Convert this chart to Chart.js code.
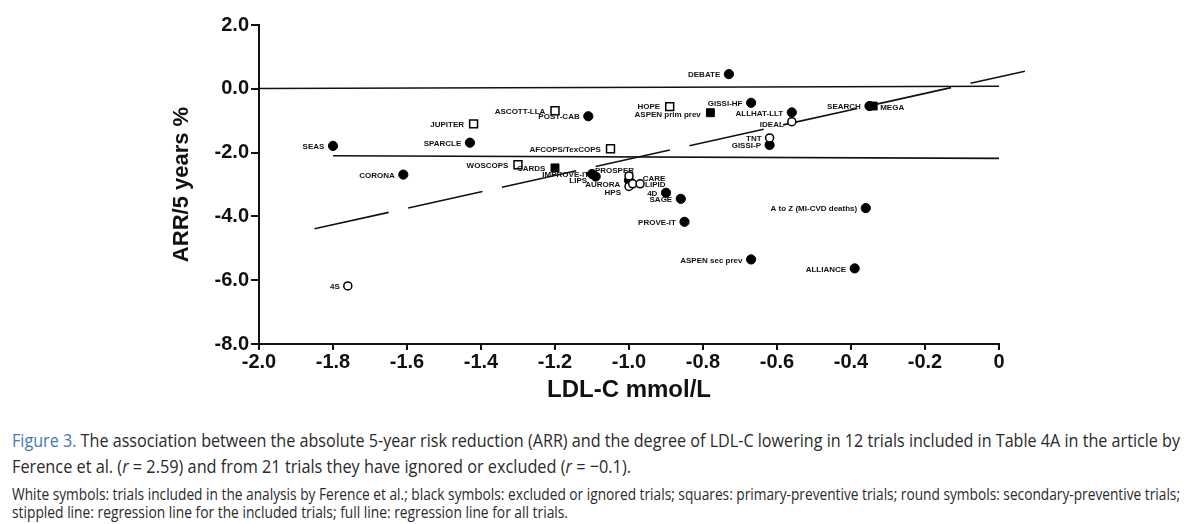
<!DOCTYPE html>
<html>
<head>
<meta charset="utf-8">
<script src="https://cdn.jsdelivr.net/npm/chart.js@4.4.3/dist/chart.umd.min.js"></script>
<style>
  body { margin: 0; width: 1200px; height: 524px; background: #fff; overflow: hidden; position: relative; }
  #wrap { position: absolute; left: 0; top: 0; width: 1200px; height: 410px; }
  .cap { position: absolute; left: 12px; display: inline-block; white-space: nowrap; color: #2a2a2a;
         transform-origin: left top; font-family: "Open Sans", "Noto Sans", sans-serif; }
  .big { font-size: 19px; line-height: 24px; }
  .small { font-size: 15.5px; line-height: 18px; }
  .fig { color: #4577b2; }
</style>
</head>
<body>
<div id="wrap"><canvas id="c"></canvas></div>
<div id="cap1" class="cap big" style="top:428px"><span class="fig">Figure 3.</span> The association between the absolute 5-year risk reduction (ARR) and the degree of LDL-C lowering in 12 trials included in Table 4A in the article by</div>
<div id="cap2" class="cap big" style="top:454px">Ference et al. (<i>r</i> = 2.59) and from 21 trials they have ignored or excluded (<i>r</i> = −0.1).</div>
<div id="cap3" class="cap small" style="top:485px">White symbols: trials included in the analysis by Ference et al.; black symbols: excluded or ignored trials; squares: primary-preventive trials; round symbols: secondary-preventive trials;</div>
<div id="cap4" class="cap small" style="top:503px">stippled line: regression line for the included trials; full line: regression line for all trials.</div>
<script>
// ── data ────────────────────────────────────────────────────────────────────
const trials = ['DEBATE', 'SEAS', 'CORONA', '4S', 'JUPITER', 'SPARCLE', 'ASCOTT-LLA', 'POST-CAB',
  'AFCOPS/TexCOPS', 'WOSCOPS', 'CARDS', 'IMPROVE-IT', 'LIPS', 'PROSPER', 'AURORA', 'HPS', 'CARE',
  'LIPID', '4D', 'SAGE', 'PROVE-IT', 'ASPEN sec prev', 'A to Z (MI-CVD deaths)', 'ALLIANCE', 'HOPE',
  'ASPEN prim prev', 'GISSI-HF', 'ALLHAT-LLT', 'IDEAL', 'TNT', 'GISSI-P', 'SEARCH', 'MEGA'];

const ldlChange = [-0.73, -1.80, -1.61, -1.76, -1.42, -1.43, -1.20, -1.11,
  -1.05, -1.30, -1.20, -1.10, -1.09, -1.00, -1.00, -1.00, -0.99,
  -0.97, -0.90, -0.86, -0.85, -0.67, -0.36, -0.39, -0.89,
  -0.78, -0.67, -0.56, -0.56, -0.62, -0.62, -0.35, -0.34];

const arrChange = [0.46, -1.79, -2.69, -6.18, -1.10, -1.69, -0.69, -0.86,
  -1.88, -2.38, -2.48, -2.67, -2.75, -2.73, -2.87, -3.06, -2.98,
  -2.98, -3.26, -3.45, -4.17, -5.35, -3.74, -5.63, -0.56,
  -0.75, -0.44, -0.74, -1.03, -1.54, -1.76, -0.54, -0.54];

// white symbols = included by Ference et al.
const included = [false, false, false, true, true, false, true, false,
  true, true, false, false, false, true, false, true, true,
  true, false, false, false, false, false, false, true,
  false, false, false, true, true, false, false, false];

// squares = primary prevention
const primary = [false, false, false, false, true, false, true, false,
  true, true, true, false, false, false, false, false, false,
  false, false, false, false, false, false, false, true,
  true, false, false, false, false, false, false, true];

// regression lines (end points)
const fullUpperX = [-2.0, 0.0];
const fullUpperY = [0.01, 0.08];
const fullLowerX = [-1.80, 0.0];
const fullLowerY = [-2.10, -2.18];
const stippledX = [-1.85, 0.07];
const stippledY = [-4.39, 0.55];

const xTicks = [-2.0, -1.8, -1.6, -1.4, -1.2, -1.0, -0.8, -0.6, -0.4, -0.2, 0];
const yTicks = [2.0, 0.0, -2.0, -4.0, -6.0, -8.0];

// ── label placement tweaks (layout only) ────────────────────────────────────
const labelNudge = {
  'PROSPER': { align: 'right', dx: 5, dy: -6 },
  'LIPS': { dy: 3 },
  'AURORA': { dy: 3 },
  'HPS': { dy: 5 },
  'CARE': { align: 'left', dx: 10, dy: -6 },
  'LIPID': { align: 'left', dx: 5, dy: 0 },
  'MEGA': { align: 'left', dx: 7, dy: 1 },
  'IDEAL': { dy: 2 },
  'IMPROVE-IT': { dx: -3 },
  'HOPE': { dy: -1 },
  'ASPEN prim prev': { dy: 1 },
};

const BOLD = '"Liberation Sans", Arial, Helvetica, sans-serif';

const pairs = (xs, ys) => xs.map((x, i) => ({ x, y: ys[i] }));

function pointSet(inc, prim) {
  const idx = trials.map((_, i) => i).filter(i => included[i] === inc && primary[i] === prim);
  return {
    type: 'scatter',
    names: idx.map(i => trials[i]),
    data: idx.map(i => ({ x: ldlChange[i], y: arrChange[i] })),
    pointStyle: prim ? 'rect' : 'circle',
    pointRadius: prim ? 5.6 : (inc ? 4 : 4.6),
    pointHoverRadius: prim ? 5.6 : 4.6,
    backgroundColor: inc ? '#fff' : '#000',
    borderColor: '#000',
    borderWidth: inc ? 1.5 : 1,
    order: 1,
  };
}

function lineSet(pts, dash) {
  return {
    type: 'line',
    data: pts,
    borderColor: '#111',
    borderWidth: 1.6,
    borderDash: dash,
    pointRadius: 0,
    fill: false,
    clip: false,
    order: 2,
  };
}

const trialLabels = {
  id: 'trialLabels',
  afterDatasetsDraw(chart) {
    const ctx = chart.ctx;
    ctx.save();
    ctx.font = 'bold 8px ' + BOLD;
    ctx.fillStyle = '#111';
    ctx.textBaseline = 'middle';
    chart.data.datasets.forEach((ds, di) => {
      if (!ds.names) return;
      const meta = chart.getDatasetMeta(di);
      meta.data.forEach((pt, i) => {
        const name = ds.names[i];
        const n = labelNudge[name] || {};
        ctx.textAlign = n.align || 'right';
        const dx = n.dx != null ? n.dx : -(ds.pointRadius + 4);
        ctx.fillText(name, pt.x + dx, pt.y + (n.dy || 0) + 1);
      });
    });
    ctx.restore();
  }
};

const fmt = v => (Math.abs(v) < 1e-9 ? 0 : v).toFixed(1);

new Chart(document.getElementById('c'), {
  data: {
    datasets: [
      lineSet(pairs(fullUpperX, fullUpperY), []),
      lineSet(pairs(fullLowerX, fullLowerY), []),
      lineSet(pairs(stippledX, stippledY), [76, 20]),
      pointSet(true, false),
      pointSet(false, false),
      pointSet(true, true),
      pointSet(false, true),
    ],
  },
  options: {
    responsive: true,
    maintainAspectRatio: false,
    animation: false,
    events: [],
    layout: { padding: { left: 165, right: 201, top: 25, bottom: 0 } },
    plugins: { legend: { display: false }, tooltip: { enabled: false } },
    scales: {
      x: {
        type: 'linear',
        min: -2, max: 0,
        afterFit: s => { s.height = 66; },
        afterBuildTicks: s => { s.ticks = xTicks.map(v => ({ value: v })); },
        border: { display: true, color: '#111', width: 2 },
        grid: { drawOnChartArea: false, drawTicks: true, tickLength: 6, color: '#111', lineWidth: 2 },
        ticks: {
          color: '#111', padding: 0, maxRotation: 0, autoSkip: false,
          font: { family: BOLD, size: 20, weight: 'bold' },
          callback: v => (Math.abs(v) < 1e-9 ? '0' : v.toFixed(1)),
        },
        title: {
          display: true, text: 'LDL-C mmol/L', color: '#111',
          font: { family: BOLD, size: 24, weight: 'bold' },
          padding: { top: 4, bottom: 5 },
        },
      },
      y: {
        type: 'linear',
        min: -8, max: 2,
        afterFit: s => { s.width = 94; },
        afterBuildTicks: s => { s.ticks = yTicks.map(v => ({ value: v })); },
        border: { display: true, color: '#111', width: 2 },
        grid: { drawOnChartArea: false, drawTicks: true, tickLength: 8, color: '#111', lineWidth: 2 },
        ticks: {
          color: '#111', padding: 2, autoSkip: false,
          font: { family: BOLD, size: 20, weight: 'bold' },
          callback: v => fmt(v),
        },
        title: {
          display: true, text: 'ARR/5 years %', color: '#111',
          font: { family: BOLD, size: 22, weight: 'bold' },
          padding: { top: 4, bottom: 4 },
        },
      },
    },
  },
  plugins: [trialLabels],
});

// squeeze each caption line to the condensed width of the printed figure
function fitCaption(id, target) {
  const el = document.getElementById(id);
  const s = target / el.getBoundingClientRect().width;
  el.style.transform = 'scaleX(' + s + ')';
}
fitCaption('cap1', 1168);
fitCaption('cap2', 619);
fitCaption('cap3', 1168);
fitCaption('cap4', 556);
</script>
</body>
</html>
